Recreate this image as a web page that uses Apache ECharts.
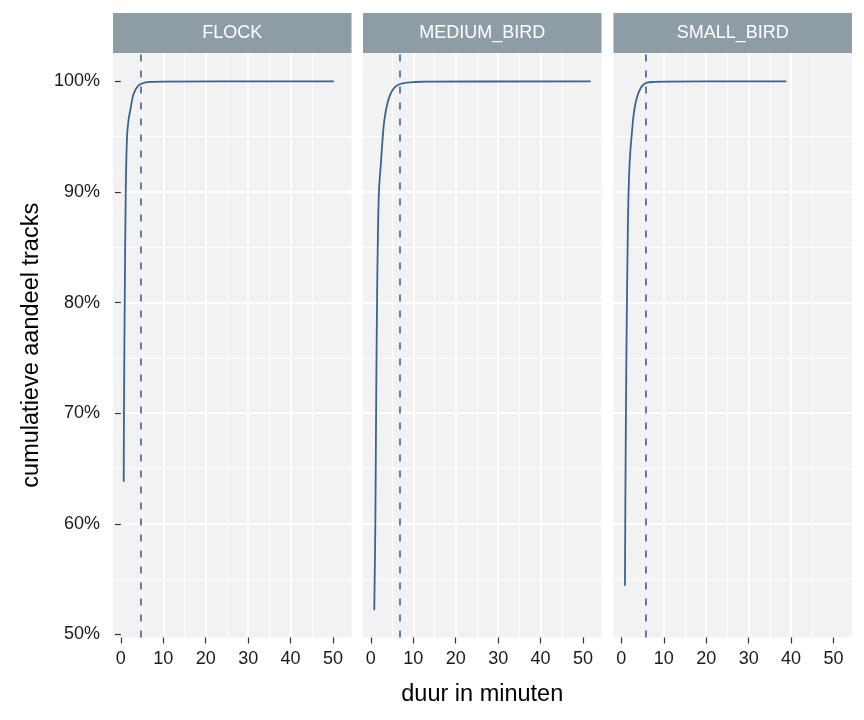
<!DOCTYPE html>
<html><head><meta charset="utf-8">
<script src="https://cdn.jsdelivr.net/npm/echarts@6/dist/echarts.min.js"></script>
<style>html,body{margin:0;padding:0;background:#fff}#c{width:864px;height:720px}</style>
</head><body><div id="c"></div>
<script>
// ---- data ----
const panels = ['FLOCK', 'MEDIUM_BIRD', 'SMALL_BIRD'];

const flockX = [0.67, 0.74, 0.91, 1.15, 1.45, 1.8, 2.23, 3.03, 4.22, 5.77, 7.5, 10.0, 50.2];
const flockY = [0.638, 0.709, 0.80, 0.90, 0.95, 0.965, 0.974, 0.989, 0.9966, 0.999, 0.9995, 0.9998, 1.0];

const mediumX = [0.8, 1.05, 1.22, 1.45, 1.62, 1.9, 2.35, 2.8, 3.18, 3.89, 4.68, 5.7, 6.9, 8.47, 10.4, 12.8, 51.8];
const mediumY = [0.522, 0.599, 0.694, 0.80, 0.85, 0.90, 0.925, 0.95, 0.965, 0.980, 0.989, 0.995, 0.9976, 0.9988, 0.9994, 0.9997, 1.0];

const smallX = [0.84, 0.98, 1.15, 1.31, 1.48, 1.71, 2.0, 2.42, 3.22, 4.43, 6.03, 8.0, 10.5, 38.9];
const smallY = [0.544, 0.645, 0.736, 0.80, 0.852, 0.902, 0.93, 0.951, 0.978, 0.993, 0.9988, 0.9995, 0.9998, 1.0];

const medianLines = [4.6, 6.7, 5.77];

const xTicks = [0, 10, 20, 30, 40, 50];
const xTickLabels = ['0', '10', '20', '30', '40', '50'];
const yTicks = [0.5, 0.6, 0.7, 0.8, 0.9, 1.0];
const yTickLabels = ['50%', '60%', '70%', '80%', '90%', '100%'];

const xTitle = 'duur in minuten';
const yTitle = 'cumulatieve aandeel tracks';

// ---- chart ----
const seriesX = [flockX, mediumX, smallX];
const seriesY = [flockY, mediumY, smallY];
const FONT = 'Liberation Sans, Arial, Helvetica, sans-serif';
const lineColor = '#3a6395';
const panelLeft = [113, 363, 613.5];
const panelW = 238.5, panelTop = 53, panelH = 584.5;
const xMin = -1.855, xMax = 54.355, yMin = 0.4973, yMax = 1.0256;

function lbl(ticks, labels) {
  return v => {
    for (let i = 0; i < ticks.length; i++) if (Math.abs(ticks[i] - v) < 1e-6) return labels[i];
    return '';
  };
}

const grid = [], xAxis = [], yAxis = [], series = [], graphic = [];
panels.forEach((name, i) => {
  grid.push({left: panelLeft[i], top: panelTop, width: panelW, height: panelH,
    show: true, backgroundColor: '#f2f2f2', borderWidth: 0, containLabel: false});
  xAxis.push({
    type: 'value', gridIndex: i, min: xMin, max: xMax,
    axisLine: {show: false},
    axisTick: {show: true, length: 6, customValues: xTicks, lineStyle: {color: '#333', width: 1.2}},
    axisLabel: {show: true, customValues: xTicks, formatter: lbl(xTicks, xTickLabels), margin: 13,
      color: '#1a1a1a', fontSize: 18, fontFamily: FONT},
    splitLine: {show: true, showMinLine: false, showMaxLine: false, lineStyle: {color: '#ffffff', width: 2}},
    minorTick: {show: false, splitNumber: 2},
    minorSplitLine: {show: true, lineStyle: {color: '#ffffff', width: 1}},
    name: i === 1 ? xTitle : '', nameLocation: 'middle', nameGap: 45,
    nameTextStyle: {fontSize: 23.5, color: '#000', fontFamily: FONT}
  });
  yAxis.push({
    type: 'value', gridIndex: i, min: yMin, max: yMax,
    axisLine: {show: false},
    axisTick: {show: i === 0, length: 6, customValues: yTicks, lineStyle: {color: '#333', width: 1.2}},
    axisLabel: {show: i === 0, customValues: yTicks, formatter: lbl(yTicks, yTickLabels), margin: 13,
      color: '#1a1a1a', fontSize: 18, fontFamily: FONT},
    splitLine: {show: true, showMinLine: false, showMaxLine: false, lineStyle: {color: '#ffffff', width: 2}},
    minorTick: {show: false, splitNumber: 2},
    minorSplitLine: {show: true, lineStyle: {color: '#ffffff', width: 1}},
    name: i === 0 ? yTitle : '', nameLocation: 'middle', nameGap: 69, nameRotate: 90,
    nameTextStyle: {fontSize: 23.5, color: '#000', fontFamily: FONT}
  });
  series.push({
    type: 'line', xAxisIndex: i, yAxisIndex: i,
    data: seriesX[i].map((x, k) => [x, seriesY[i][k]]),
    showSymbol: false, smooth: 0.4,
    lineStyle: {color: lineColor, width: 1.8}, itemStyle: {color: lineColor},
    markLine: {silent: true, symbol: ['none', 'none'], label: {show: false},
      lineStyle: {color: lineColor, width: 1.6, type: [7, 9]},
      data: [{xAxis: medianLines[i]}]}
  });
  graphic.push({type: 'rect', left: panelLeft[i], top: 13,
    shape: {width: panelW, height: 40}, style: {fill: '#8e9ca6'}, silent: true});
  graphic.push({type: 'text', x: panelLeft[i] + panelW / 2, y: 33,
    style: {text: name, fill: '#ffffff', font: '18px ' + FONT, textAlign: 'center', textVerticalAlign: 'middle'}, silent: true});
});

const chart = echarts.init(document.getElementById('c'), null, {renderer: 'canvas'});
chart.setOption({backgroundColor: '#ffffff', animation: false, grid, xAxis, yAxis, series, graphic});
</script></body></html>
